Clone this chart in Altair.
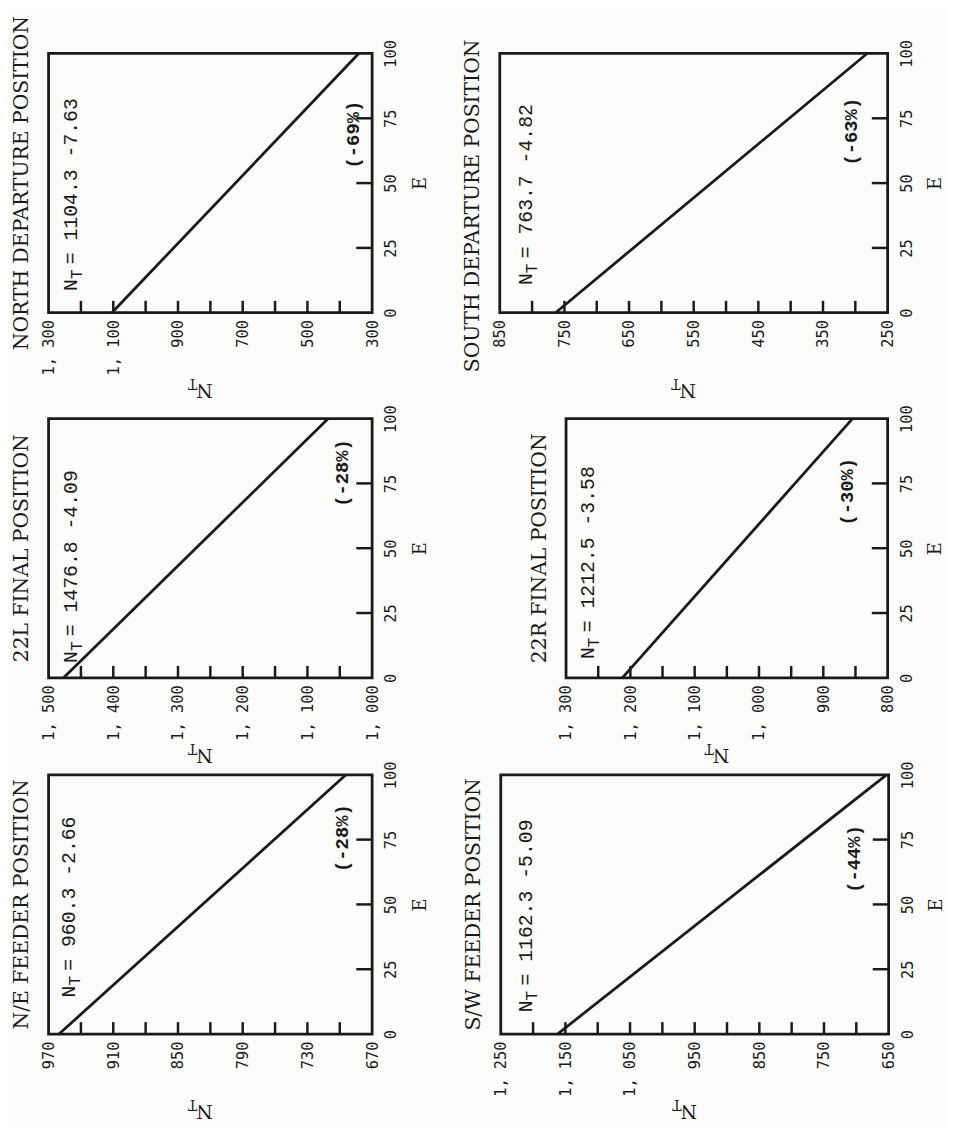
import altair as alt
import pandas as pd

# ---------------- data ----------------
TITLES = ["NORTH DEPARTURE POSITION", "SOUTH DEPARTURE POSITION",
          "22L FINAL POSITION", "22R FINAL POSITION",
          "N/E FEEDER POSITION", "S/W FEEDER POSITION"]
NT_MAX = [1300, 850, 1500, 1300, 970, 1250]
NT_MIN = [300, 250, 1000, 800, 670, 650]
NT_LABELS = [
    [1300, 1100, 900, 700, 500, 300],
    [850, 750, 650, 550, 450, 350, 250],
    [1500, 1400, 1300, 1200, 1100, 1000],
    [1300, 1200, 1100, 1000, 900, 800],
    [970, 910, 850, 790, 730, 670],
    [1250, 1150, 1050, 950, 850, 750, 650],
]
NT_TICK_STEP = [100, 50, 50, 50, 30, 50]
E_LABELS = [0, 25, 50, 75, 100]
E_TICKS = [25, 50, 75]
LINE_E = [0, 100]
LINE_NT = [
    [1104.3, 341.3],
    [763.7, 281.7],
    [1476.8, 1067.8],
    [1212.5, 854.5],
    [960.3, 694.3],
    [1162.3, 653.3],
]
EQ_TEXT = [" = 1104.3 -7.63", " = 763.7 -4.82", " = 1476.8 -4.09",
           " = 1212.5 -3.58", " = 960.3 -2.66", " = 1162.3 -5.09"]
PCT_TEXT = ["(-69%)", "(-63%)", "(-28%)", "(-30%)", "(-28%)", "(-44%)"]

# ---------------- layout / style ----------------
WIDTHS = [327, 392, 327, 325, 327, 392]
H = 262
EQ_POS = [(29, 240), (33, 234), (29, 247), (28, 243), (27, 225), (32, 240)]
PCT_POS = [(308, 82), (355, 79), (297, 55), (284, 74), (297, 64), (357, 85)]
TITLE_SHIFT = [0, -23, 0, 0, 0, 0]
INK = "#1a1a1a"
SERIF = "DejaVu Serif"
MONO = "Liberation Mono"
LABEL_FONT = "DejaVu Sans Mono"


def text_layer(txt, x, y, **kw):
    return alt.Chart(pd.DataFrame({"t": [txt]})).mark_text(color=INK, **kw).encode(
        x=alt.value(x), y=alt.value(y), text="t:N")


def panel(i):
    W = WIDTHS[i]
    hi, lo, step = NT_MAX[i], NT_MIN[i], NT_TICK_STEP[i]
    minor = list(range(lo + step, hi, step))

    x = alt.X("NT:Q",
              scale=alt.Scale(domain=[hi, lo], nice=False, zero=False),
              axis=alt.Axis(values=NT_LABELS[i], title=None, labelAngle=270,
                            labelAlign="right", labelBaseline="middle",
                            labelPadding=7, labelFlush=False, labelOverlap=False,
                            labelExpr="replace(format(datum.value, ','), ',', ', ')",
                            ticks=False, domain=False, grid=False,
                            labelFont=LABEL_FONT, labelFontSize=15.5, labelColor=INK))
    y = alt.Y("E:Q",
              scale=alt.Scale(domain=[0, 100], nice=False, zero=False),
              axis=alt.Axis(orient="right", values=E_LABELS, title="E",
                            labelAngle=270, labelAlign="center", labelBaseline="top",
                            labelPadding=12, labelFlush=False, labelOverlap=False,
                            ticks=False, domain=False, grid=False,
                            labelFont=LABEL_FONT, labelFontSize=15.5, labelColor=INK,
                            titleAngle=270, titleBaseline="top", titlePadding=12,
                            titleFont=SERIF, titleFontSize=18, titleFontWeight="normal",
                            titleColor=INK))

    line = alt.Chart(pd.DataFrame({"E": LINE_E, "NT": LINE_NT[i]})).mark_line(
        color=INK, strokeWidth=2.8).encode(x=x, y=y)
    xticks = alt.Chart(pd.DataFrame({"NT": minor})).mark_rule(
        color=INK, strokeWidth=2.5).encode(x=x, y=alt.value(H), y2=alt.value(H - 12))
    yticks = alt.Chart(pd.DataFrame({"E": E_TICKS})).mark_rule(
        color=INK, strokeWidth=2.5).encode(y=y, x=alt.value(W), x2=alt.value(W - 16))

    ex, ey = EQ_POS[i]
    eq_n = text_layer("N", ex, ey, angle=270, align="left", baseline="alphabetic",
                      font=MONO, fontSize=20)
    eq_t = text_layer("T", ex, ey, angle=270, align="left", baseline="alphabetic",
                      font=MONO, fontSize=16, dx=12, dy=5)
    eq_r = text_layer(EQ_TEXT[i], ex, ey, angle=270, align="left", baseline="alphabetic",
                      font=MONO, fontSize=20, dx=27)
    px, py = PCT_POS[i]
    pct = text_layer(PCT_TEXT[i], px, py, angle=270, align="center", baseline="middle",
                     font=MONO, fontSize=19, fontWeight="bold")
    nt_n = text_layer("N", W / 2 - 6, H + 78, angle=180, align="center", baseline="middle",
                      font=SERIF, fontSize=19)
    nt_t = text_layer("T", W / 2 - 6, H + 78, angle=180, align="center", baseline="middle",
                      font=SERIF, fontSize=14, dx=12, dy=7)

    title_kw = dict(orient="left", anchor="middle", font=SERIF, fontSize=20.5,
                    fontWeight="normal", color=INK, offset=9)
    if TITLE_SHIFT[i]:
        title_kw["dx"] = TITLE_SHIFT[i]

    return alt.layer(line, xticks, yticks, eq_n, eq_t, eq_r, pct, nt_n, nt_t).properties(
        width=W, height=H, title=alt.TitleParams(TITLES[i], **title_kw))


row1 = alt.hconcat(panel(0), panel(1), spacing=129, bounds="flush")
row2 = alt.hconcat(panel(2), panel(3), spacing=196, bounds="flush")
row3 = alt.hconcat(panel(4), panel(5), spacing=130, bounds="flush")

lower = alt.vconcat(row2, row3, spacing=-7, bounds="full")

chart = alt.vconcat(row1, lower, spacing=2, bounds="full").properties(
    padding={"left": 3, "top": 0, "right": 0, "bottom": 0}
).configure(background="#fbfbf9").configure_view(stroke=INK, strokeWidth=2.8)

chart.save("out.html", embed_options={"renderer": "svg", "actions": False})
